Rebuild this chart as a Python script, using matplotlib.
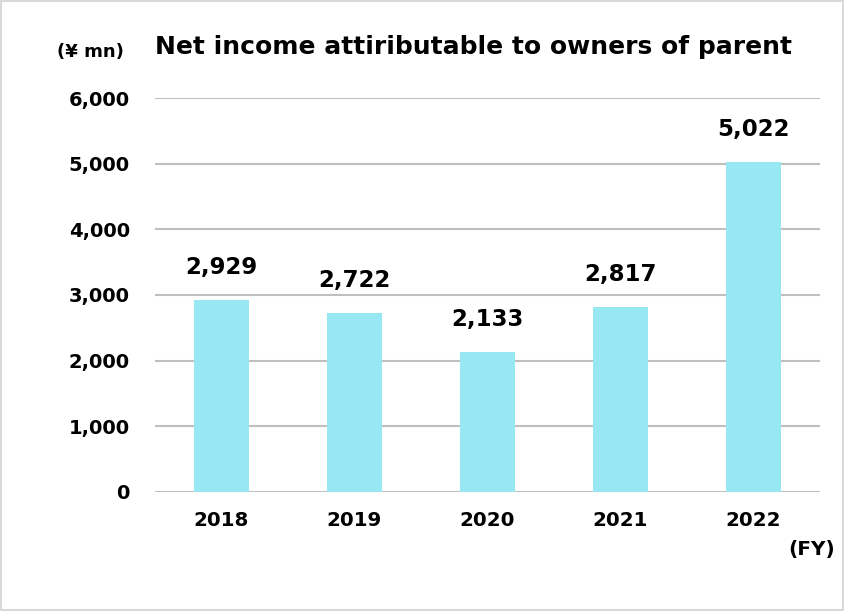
import matplotlib
matplotlib.use("Agg")
import matplotlib.pyplot as plt
from matplotlib.patches import Rectangle
from matplotlib.ticker import FuncFormatter, MultipleLocator

YEARS = ["2018", "2019", "2020", "2021", "2022"]
NET_INCOME = [2929, 2722, 2133, 2817, 5022]
TITLE = "Net income attiributable to owners of parent"
BAR_COLOR = "#97E8F3"
GRID_COLOR = "#BFBFBF"

plt.rcParams["font.family"] = ["DejaVu Sans"]

fig = plt.figure(figsize=(8.44, 6.11), dpi=100)
ax = fig.add_axes([0.1836, 0.1948, 0.7880, 0.6448])

x = range(len(YEARS))
ax.bar(x, NET_INCOME, width=0.41, color=BAR_COLOR, zorder=2)
ax.set_xlim(-0.5, len(YEARS) - 0.5)
ax.set_ylim(0, 6000)
ax.yaxis.set_major_locator(MultipleLocator(1000))
ax.yaxis.set_major_formatter(FuncFormatter(lambda v, _: f"{int(v):,}"))
ax.grid(axis="y", color=GRID_COLOR, linewidth=1.5, zorder=0)
for s in ax.spines.values():
    s.set_visible(False)
ax.tick_params(length=0)
ax.tick_params(axis="y", pad=18, labelsize=14)
ax.tick_params(axis="x", pad=14, labelsize=14.3)
ax.set_xticks(list(x))
ax.set_xticklabels(YEARS)
for lab in ax.get_xticklabels() + ax.get_yticklabels():
    lab.set_fontweight("bold")

for xi, v in zip(x, NET_INCOME):
    ax.annotate(f"{v:,}", (xi, v), xytext=(0, 15), textcoords="offset points",
                ha="center", va="bottom", fontsize=16.5, fontweight="bold")

fig.text(155 / 844, 1 - 47 / 611, TITLE, fontsize=18, fontweight="bold",
         ha="left", va="center")
fig.text(90 / 844, 1 - 52 / 611, "(¥ mn)", fontsize=13, fontweight="bold",
         ha="center", va="center")
fig.text(835 / 844, 1 - 550 / 611, "(FY)", fontsize=14.5, fontweight="bold",
         ha="right", va="center")

fig.patches.append(Rectangle((0.001, 0.001), 0.998, 0.998, transform=fig.transFigure,
                             fill=False, edgecolor="#D9D9D9", linewidth=1.5))

fig.savefig("out.png", dpi=100)
